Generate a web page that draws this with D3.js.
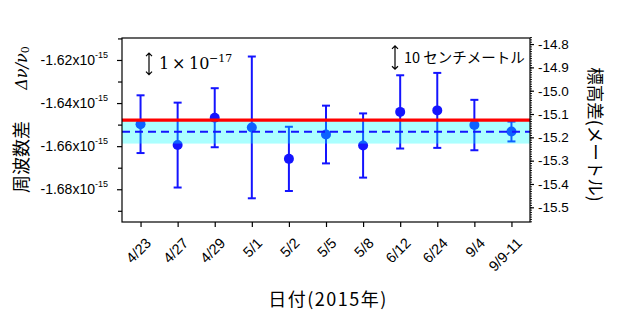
<!DOCTYPE html>
<html>
<head>
<meta charset="utf-8">
<script src="https://cdn.jsdelivr.net/npm/d3@7"></script>
<style>
  body { margin: 0; background: #fff; }
  svg { display: block; }
</style>
</head>
<body>
<svg id="chart" width="617" height="330"></svg>
<script>
// Measurement dates (2015)
const dates = ["4/23", "4/27", "4/29", "5/1", "5/2", "5/5", "5/8", "6/12", "6/24", "9/4", "9/9-11"];
// Fractional frequency difference, in units of 1e-15
const freqDiff = [-1.6498, -1.6595, -1.6468, -1.6513, -1.6659, -1.6546, -1.6597, -1.6441, -1.6434, -1.6502, -1.6532];
// One-sigma uncertainty of each measurement, in units of 1e-15
const freqErr = [0.0134, 0.0197, 0.0137, 0.0329, 0.0149, 0.0134, 0.0149, 0.0170, 0.0174, 0.0117, 0.0046];
// Weighted mean and its uncertainty band (1e-15)
const meanDiff = [-1.6533];
const meanBand = [-1.6474, -1.6588];
// Height difference from geodetic levelling, expressed on the frequency axis (1e-15)
const levelling = [-1.6479];

// Axis ticks
const leftMajor = [-1.62, -1.64, -1.66, -1.68];
const leftMinor = [-1.61, -1.63, -1.65, -1.67, -1.69];
const rightMajor = [-14.8, -14.9, -15.0, -15.1, -15.2, -15.3, -15.4, -15.5];
const rightMinor = d3.range(-14.77, -15.565, -0.01);

// Scale bars drawn in the plot
const freqBar = [-1.6168, -1.6268];   // 1e-17
const heightBar = [-14.808, -14.908];  // 10 cm

const svg = d3.select("#chart");
const L = 122, R = 530, T = 38, B = 222;

const x = d3.scalePoint().domain(dates).range([L, R]).padding(0.5);
const yL = d3.scaleLinear().domain([-1.6952, -1.6098]).range([B, T]);
const yR = d3.scaleLinear().domain([-15.563, -14.774]).range([B, T]);

const tickFont = "'Liberation Sans', Arial, sans-serif";
const cjkFont = "'Noto Sans CJK JP', sans-serif";
const mathFont = "'DejaVu Serif', 'Liberation Serif', serif";
const blue = "#1414ff";

// ---- data layer ----
const g = svg.append("g");

// error bars
const eb = g.selectAll("g.eb").data(dates).join("g").attr("class", "eb");
eb.append("line")
  .attr("x1", d => x(d)).attr("x2", d => x(d))
  .attr("y1", (d, i) => yL(freqDiff[i] + freqErr[i]))
  .attr("y2", (d, i) => yL(freqDiff[i] - freqErr[i]))
  .attr("stroke", blue).attr("stroke-width", 2);
eb.append("line")
  .attr("x1", d => x(d) - 4).attr("x2", d => x(d) + 4)
  .attr("y1", (d, i) => yL(freqDiff[i] + freqErr[i]))
  .attr("y2", (d, i) => yL(freqDiff[i] + freqErr[i]))
  .attr("stroke", blue).attr("stroke-width", 2);
eb.append("line")
  .attr("x1", d => x(d) - 4).attr("x2", d => x(d) + 4)
  .attr("y1", (d, i) => yL(freqDiff[i] - freqErr[i]))
  .attr("y2", (d, i) => yL(freqDiff[i] - freqErr[i]))
  .attr("stroke", blue).attr("stroke-width", 2);

// points
g.selectAll("circle").data(dates).join("circle")
  .attr("cx", d => x(d))
  .attr("cy", (d, i) => yL(freqDiff[i]))
  .attr("r", 5)
  .attr("fill", blue);

// uncertainty band of the mean
g.append("rect")
  .attr("x", L).attr("width", R - L)
  .attr("y", yL(meanBand[0]))
  .attr("height", yL(meanBand[1]) - yL(meanBand[0]))
  .attr("fill", "#00ffff").attr("fill-opacity", 0.33);

// mean (dashed)
g.append("line")
  .attr("x1", L).attr("x2", R)
  .attr("y1", yL(meanDiff[0])).attr("y2", yL(meanDiff[0]))
  .attr("stroke", blue).attr("stroke-width", 2)
  .attr("stroke-dasharray", "8,5");

// levelling result (red)
g.append("line")
  .attr("x1", L).attr("x2", R)
  .attr("y1", yL(levelling[0])).attr("y2", yL(levelling[0]))
  .attr("stroke", "#ff0000").attr("stroke-width", 3.2);

// ---- frame ----
svg.append("rect")
  .attr("x", L).attr("y", T).attr("width", R - L).attr("height", B - T)
  .attr("fill", "none").attr("stroke", "#000").attr("stroke-width", 1.2);

// ---- left axis ----
const axL = svg.append("g").attr("transform", `translate(${L},0)`)
  .call(d3.axisLeft(yL).tickValues(leftMajor).tickSize(5).tickPadding(9)
    .tickFormat(d => d.toFixed(2) + "x10"));
axL.select(".domain").remove();
axL.selectAll(".tick line").attr("stroke", "#000").attr("stroke-width", 1.2);
axL.selectAll(".tick text").each(function () {
  const t = d3.select(this);
  const base = t.text();
  t.text(null).attr("font-family", tickFont).attr("font-size", 14).attr("fill", "#000");
  t.append("tspan").text(base);
  t.append("tspan").attr("font-size", 9).attr("dy", "-0.75em").text("-15");
});
const axLm = svg.append("g").attr("transform", `translate(${L},0)`)
  .call(d3.axisLeft(yL).tickValues(leftMinor).tickSize(4).tickFormat(""));
axLm.select(".domain").remove();
axLm.selectAll(".tick line").attr("stroke", "#000").attr("stroke-width", 1.2);

// ---- right axis ----
const axR = svg.append("g").attr("transform", `translate(${R},0)`)
  .call(d3.axisRight(yR).tickValues(rightMajor).tickSize(4).tickPadding(4)
    .tickFormat(d => d.toFixed(1)));
axR.select(".domain").remove();
axR.selectAll(".tick line").attr("stroke", "#000").attr("stroke-width", 1.2);
axR.selectAll(".tick text").attr("font-family", tickFont).attr("font-size", 13.5).attr("fill", "#000");
const axRm = svg.append("g").attr("transform", `translate(${R},0)`)
  .call(d3.axisRight(yR).tickValues(rightMinor).tickSize(2).tickFormat(""));
axRm.select(".domain").remove();
axRm.selectAll(".tick line").attr("stroke", "#000").attr("stroke-width", 0.9);

// ---- bottom axis ----
const axB = svg.append("g").attr("transform", `translate(0,${B})`)
  .call(d3.axisBottom(x).tickSize(5).tickFormat(d => d));
axB.select(".domain").remove();
axB.selectAll(".tick line").attr("stroke", "#000").attr("stroke-width", 1.2);
axB.selectAll(".tick text")
  .attr("font-family", tickFont).attr("font-size", 14.5).attr("fill", "#000")
  .attr("text-anchor", "end")
  .attr("y", 0).attr("dy", 0)
  .attr("transform", "translate(11,22) rotate(-45)");

// ---- titles ----
svg.append("text")
  .attr("x", 328).attr("y", 306)
  .attr("text-anchor", "middle")
  .attr("font-family", cjkFont).attr("font-size", 18)
  .attr("letter-spacing", 1.5)
  .text("日付(2015年)");

svg.append("text")
  .attr("transform", "translate(20,157) rotate(-90)")
  .attr("text-anchor", "middle").attr("dominant-baseline", "central")
  .attr("font-family", cjkFont).attr("font-size", 18)
  .text("周波数差");

const mathTitle = svg.append("text")
  .attr("transform", "translate(21,68) rotate(-90)")
  .attr("text-anchor", "middle").attr("dominant-baseline", "central")
  .attr("font-family", mathFont).attr("font-style", "italic").attr("font-size", 16);
mathTitle.append("tspan").text("Δν/ν");
mathTitle.append("tspan").attr("font-size", 11).attr("font-style", "normal").attr("dy", "0.35em").text("0");

svg.append("text")
  .attr("transform", "translate(596,134.5) rotate(90)")
  .attr("text-anchor", "middle").attr("dominant-baseline", "central")
  .attr("font-family", cjkFont).attr("font-size", 17.5)
  .text("標高差(メートル)");

// ---- scale bars ----
function dblArrow(xp, y1, y2) {
  const h = 3;
  svg.append("path")
    .attr("d", `M${xp},${y1}V${y2}M${xp - h},${y1 + h}L${xp},${y1}L${xp + h},${y1 + h}M${xp - h},${y2 - h}L${xp},${y2}L${xp + h},${y2 - h}`)
    .attr("fill", "none").attr("stroke", "#000").attr("stroke-width", 1.2);
}
dblArrow(149, yL(freqBar[0]), yL(freqBar[1]));
dblArrow(395, yR(heightBar[0]), yR(heightBar[1]));

const ann1 = svg.append("text").attr("y", 68.5)
  .attr("font-family", mathFont).attr("font-size", 16).attr("fill", "#000");
ann1.append("tspan").attr("x", 159).text("1");
ann1.append("tspan").attr("x", 172).text("×");
ann1.append("tspan").attr("x", 189).text("10");
ann1.append("tspan").attr("x", 209).attr("dy", -7).attr("font-size", 11).text("−17");

svg.append("text")
  .attr("x", 404).attr("y", 63)
  .attr("font-family", cjkFont).attr("font-size", 14.5).attr("fill", "#000")
  .text("10 センチメートル");
</script>
</body>
</html>
